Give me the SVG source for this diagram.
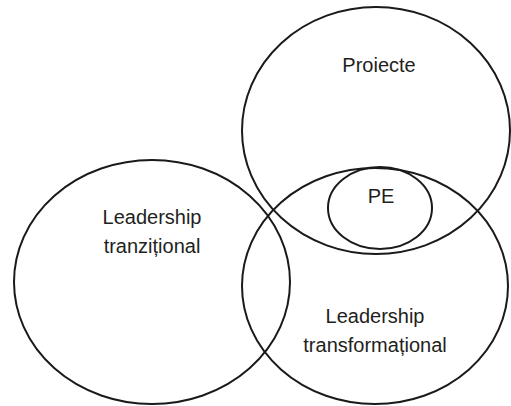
<svg xmlns="http://www.w3.org/2000/svg" width="511" height="406" viewBox="0 0 511 406">
<style>
.e{fill:none;stroke:#1a1a1a;stroke-width:2}
.t{font-family:"Liberation Sans",Arial,sans-serif;font-size:20px;fill:#231f20;text-anchor:middle}
</style>
<rect width="511" height="406" fill="#fff"/>
<g id="tranzitional">
<ellipse class="e" cx="152" cy="282" rx="138" ry="122"/>
<text class="t" x="152" y="224">Leadership</text>
<text class="t" x="152" y="253">tranzițional</text>
</g>
<g id="transformational">
<ellipse class="e" cx="375" cy="286" rx="133" ry="118"/>
<text class="t" x="375" y="323">Leadership</text>
<text class="t" x="375" y="352">transformațional</text>
</g>
<g id="proiecte">
<ellipse class="e" cx="376" cy="130.5" rx="134" ry="123.5"/>
<text class="t" x="379" y="72">Proiecte</text>
</g>
<g id="pe">
<ellipse class="e" cx="380" cy="208" rx="52" ry="41"/>
<text class="t" x="381" y="203">PE</text>
</g>
<g id="connectors"/>
</svg>
